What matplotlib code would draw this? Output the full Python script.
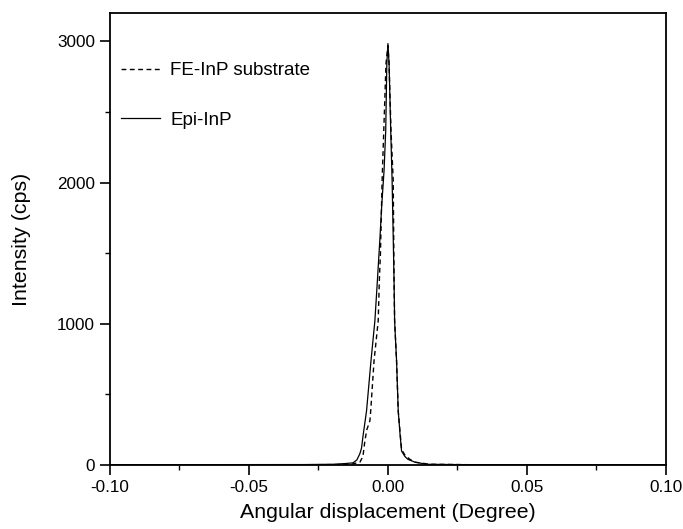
import numpy as np
import matplotlib.pyplot as plt
from matplotlib.ticker import MultipleLocator

# Rocking curve of FE-InP substrate vs Epi-InP layer

plt.rcParams['font.family'] = ['Liberation Sans', 'DejaVu Sans']

sub_x = [-0.100, -0.0300, -0.0137, -0.0101, -0.0090, -0.0083, -0.0076, -0.0065,
         -0.0062, -0.0050, -0.0035, -0.0031, -0.0027, -0.0021, -0.0015, -0.0007,
         0.0000, 0.0004, 0.0011, 0.0019, 0.0022, 0.0024, 0.0031, 0.0037, 0.0049,
         0.0061, 0.0079, 0.0097, 0.0151, 0.0300, 0.100]
sub_y = [2, 2, 3, 20, 60, 170, 250, 312,
         383, 738, 1021, 1305, 1500, 2014, 2369, 2844,
         2970, 2844, 2369, 2014, 1305, 1021, 738, 383, 110,
         70, 40, 20, 5, 2, 2]

epi_x = [-0.100, -0.0300, -0.0198, -0.0155, -0.0126, -0.0112, -0.0101, -0.0095,
         -0.0090, -0.0077, -0.0061, -0.0047, -0.0038, -0.0029, -0.0022, -0.0014,
         -0.0008, -0.0004, 0.0000, 0.0004, 0.0010, 0.0015, 0.0022, 0.0024,
         0.0031, 0.0037, 0.0043, 0.0049, 0.0061, 0.0072, 0.0097, 0.0140,
         0.0300, 0.100]
epi_y = [2, 3, 5, 10, 15, 35, 80, 120,
         200, 383, 738, 1021, 1305, 1600, 1850, 2085,
         2369, 2844, 2985, 2844, 2369, 2014, 1305, 1021,
         738, 383, 230, 99, 60, 40, 20, 5,
         2, 2]

fig = plt.figure(figsize=(6.83, 5.29), dpi=100)
ax = fig.add_axes([0.161, 0.121, 0.814, 0.854])

ax.plot(sub_x, sub_y, color='black', linestyle=(0, (3.5, 2.5)), linewidth=1.0,
        label='FE-InP substrate')
ax.plot(epi_x, epi_y, color='black', linewidth=0.9, label='Epi-InP')

ax.set_xlim(-0.1, 0.1)
ax.set_ylim(0, 3200)
ax.xaxis.set_major_locator(MultipleLocator(0.05))
ax.xaxis.set_minor_locator(MultipleLocator(0.025))
ax.yaxis.set_major_locator(MultipleLocator(1000))
ax.yaxis.set_minor_locator(MultipleLocator(500))
ax.set_xticks([-0.1, -0.05, 0.0, 0.05, 0.1])
ax.set_xticklabels(['-0.10', '-0.05', '0.00', '0.05', '0.10'])

ax.tick_params(which='major', direction='out', length=7, width=1.2,
               labelsize=12.3, pad=3.6)
ax.tick_params(which='minor', direction='out', length=3.5, width=1.0)
for s in ax.spines.values():
    s.set_linewidth(1.3)

ax.set_xlabel('Angular displacement (Degree)', fontsize=15.4, labelpad=6)
ax.set_ylabel('Intensity (cps)', fontsize=15.4, labelpad=19)

leg = ax.legend(loc='upper left', bbox_to_anchor=(0.006, 0.908), frameon=False,
                fontsize=13.5, handlelength=2.1, handletextpad=0.55,
                labelspacing=1.72, borderaxespad=0.0)

fig.savefig('out.png', dpi=100)
